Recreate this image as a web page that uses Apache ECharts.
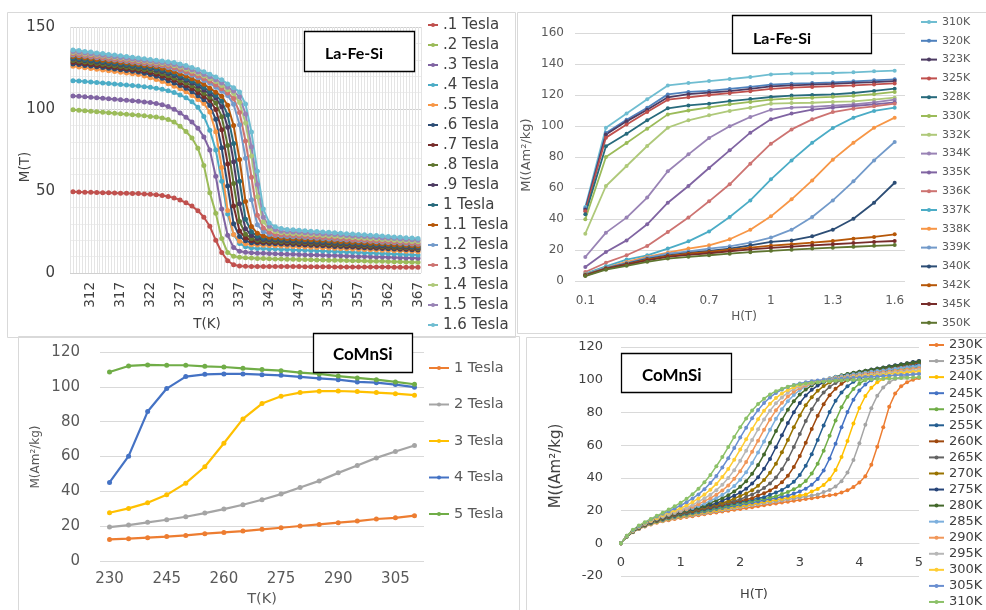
<!DOCTYPE html>
<html>
<head>
<meta charset="utf-8">
<script src="https://cdn.jsdelivr.net/npm/echarts@6/dist/echarts.min.js"></script>
<style>
html, body { margin: 0; padding: 0; background: #fff; }
#chart { width: 986px; height: 610px; }
</style>
</head>
<body>
<div id="chart"></div>
<script>
// ---- La-Fe-Si, M(T) at fixed field (top left) ----
var tlTemps = [309,310,311,312,313,314,315,316,317,318,319,320,321,322,323,324,325,326,327,328,329,330,331,332,333,334,335,336,337,338,339,340,341,342,343,344,345,346,347,348,349,350,351,352,353,354,355,356,357,358,359,360,361,362,363,364,365,366,367];
var tl01 = [49.5,49.4,49.3,49.2,49.1,49,48.9,48.8,48.7,48.6,48.5,48.4,48.2,48,47.7,47.3,46.7,45.8,44.5,42.8,40.8,38,34,28.5,20,12.5,7.5,5,4.3,4.1,4,4,4,4,3.9,3.9,3.9,3.9,3.9,3.8,3.8,3.8,3.8,3.8,3.7,3.7,3.7,3.7,3.7,3.6,3.6,3.6,3.6,3.6,3.5,3.5,3.5,3.5,3.5];
var tl02 = [99.5,99.2,98.9,98.6,98.3,98,97.7,97.4,97.1,96.8,96.5,96.2,95.9,95.5,95.1,94.5,93.6,92,89.5,86.3,82.3,76,65.5,49,36.5,21,12.5,10.2,9.6,9.3,9.1,8.9,8.8,8.7,8.6,8.5,8.4,8.4,8.3,8.2,8.1,8,7.9,7.8,7.8,7.7,7.6,7.5,7.4,7.3,7.2,7.2,7.1,7,6.9,6.8,6.7,6.6,6.5];
var tl03 = [108,107.7,107.4,107.1,106.8,106.5,106.2,105.9,105.6,105.3,105,104.7,104.3,103.9,103.4,102.6,101.5,99.8,97.6,95,92,88.3,83,75,59,39,23,15.5,13.2,12.6,12.3,12.1,12,11.9,11.7,11.6,11.5,11.4,11.3,11.2,11,10.9,10.8,10.7,10.6,10.5,10.4,10.2,10.1,10,9.9,9.8,9.7,9.6,9.4,9.3,9.2,9.1,9];
var tl04 = [117.3,117,116.7,116.4,116.1,115.8,115.5,115.2,114.9,114.6,114.3,114,113.6,113.2,112.7,112,111.1,110,108.6,106.8,104.4,101,95.5,87,75,56,36,23.5,18,16,15.3,15,14.9,14.7,14.6,14.4,14.3,14.1,14,13.8,13.7,13.5,13.4,13.2,13.1,12.9,12.8,12.6,12.5,12.3,12.2,12,11.9,11.7,11.6,11.4,11.3,11.1,11];
var tl05 = [126,125.6,125.1,124.7,124.2,123.8,123.3,122.9,122.4,122,121.5,121.1,120.1,119.1,118,116.8,115.4,113.9,112.3,110.5,108.2,105.8,103.4,98.1,86.1,64.4,38.1,23.4,19.4,17.8,17.2,17.1,16.9,16.8,16.6,16.5,16.3,16.2,16,15.9,15.7,15.6,15.4,15.3,15.1,15,14.8,14.7,14.5,14.4,14.2,14.1,13.9,13.8,13.6,13.5,13.3,13.2,13];
var tl06 = [127.5,127.1,126.6,126.2,125.7,125.3,124.8,124.4,123.9,123.5,123,122.6,121.8,121,119.9,118.7,117.3,115.9,114.3,112.7,110.5,108.1,105.6,102.2,93.7,76.3,53.1,30,22.3,19.6,18.5,18.3,18.2,18,17.8,17.7,17.5,17.4,17.2,17,16.9,16.7,16.6,16.4,16.2,16.1,15.9,15.8,15.6,15.4,15.3,15.1,15,14.8,14.6,14.5,14.3,14.2,14];
var tl07 = [128.5,128.1,127.6,127.2,126.7,126.3,125.8,125.4,124.9,124.5,124,123.6,123.1,122.2,121.2,120.1,118.8,117.5,115.9,114.3,112.5,110.1,107.6,105.2,99.7,87.3,66.5,40.8,25.6,21.4,19.8,19.1,18.9,18.8,18.6,18.4,18.2,18.1,17.9,17.7,17.6,17.4,17.2,17.1,16.9,16.7,16.5,16.4,16.2,16,15.9,15.7,15.5,15.4,15.2,15,14.8,14.7,14.5];
var tl08 = [129.5,129.1,128.6,128.2,127.7,127.3,126.8,126.4,125.9,125.5,125,124.6,124.1,123.4,122.5,121.5,120.2,118.9,117.4,115.9,114.2,112.1,109.6,107.2,103.7,95.3,77.8,54.6,31.4,23.7,21,19.9,19.7,19.5,19.3,19.1,19,18.8,18.6,18.4,18.2,18.1,17.9,17.7,17.5,17.3,17.2,17,16.8,16.6,16.4,16.3,16.1,15.9,15.7,15.5,15.4,15.2,15];
var tl09 = [130.5,130.1,129.6,129.2,128.7,128.3,127.8,127.4,126.9,126.5,126,125.6,125.1,124.7,123.7,122.8,121.6,120.4,119,117.5,115.8,114.1,111.6,109.2,106.7,101.3,88.8,67.9,42.2,27,22.8,21.1,20.4,20.3,20.1,19.9,19.7,19.5,19.3,19.1,18.9,18.7,18.5,18.4,18.2,18,17.8,17.6,17.4,17.2,17,16.8,16.6,16.5,16.3,16.1,15.9,15.7,15.5];
var tl10 = [131,130.6,130.1,129.7,129.2,128.8,128.3,127.9,127.4,127,126.5,126.1,125.6,125.2,124.4,123.6,122.5,121.3,119.9,118.5,116.9,115.3,113.1,110.7,108.2,104.8,96.3,78.9,56,32.8,25.1,22.4,21.2,21,20.8,20.6,20.4,20.2,20,19.8,19.6,19.4,19.2,19,18.8,18.6,18.4,18.2,18,17.8,17.6,17.4,17.2,17,16.8,16.6,16.4,16.2,16];
var tl11 = [132,131.6,131.1,130.7,130.2,129.8,129.3,128.9,128.4,128,127.5,127.1,126.6,126.2,125.7,124.8,123.8,122.7,121.4,120.1,118.5,116.9,115.1,112.7,110.2,107.8,102.3,89.9,69.2,43.6,28.4,24.2,22.5,21.8,21.5,21.3,21.1,20.9,20.7,20.5,20.3,20.1,19.9,19.7,19.4,19.2,19,18.8,18.6,18.4,18.2,18,17.8,17.6,17.3,17.1,16.9,16.7,16.5];
var tl12 = [133,132.6,132.1,131.7,131.2,130.8,130.3,129.9,129.4,129,128.5,128.1,127.6,127.2,126.7,126.3,125.3,124.4,123.2,122,120.6,119.1,117.4,115.7,113.2,110.8,108.3,102.9,90.4,70,44.7,29.4,25.2,23.5,22.8,22.6,22.3,22.1,21.9,21.7,21.5,21.2,21,20.8,20.6,20.4,20.1,19.9,19.7,19.5,19.3,19,18.8,18.6,18.4,18.2,17.9,17.7,17.5];
var tl13 = [133.5,133.1,132.6,132.2,131.7,131.3,130.8,130.4,129.9,129.5,129,128.6,128.1,127.7,127.2,126.8,126,125.2,124.1,122.9,121.5,120.1,118.5,116.9,114.7,112.3,109.8,106.4,97.9,80.5,58.4,35.2,27.5,24.8,23.5,23.3,23.1,22.8,22.6,22.4,22.1,21.9,21.7,21.5,21.2,21,20.8,20.5,20.3,20.1,19.8,19.6,19.4,19.2,18.9,18.7,18.5,18.2,18];
var tl14 = [134.5,134.1,133.6,133.2,132.7,132.3,131.8,131.4,130.9,130.5,130,129.6,129.1,128.7,128.2,127.8,127.3,126.4,125.4,124.3,123,121.7,120.1,118.5,116.7,114.3,111.8,109.4,103.9,91.5,71.4,46.5,31.2,27,25.3,24.5,24.3,24,23.8,23.6,23.3,23.1,22.8,22.6,22.4,22.1,21.9,21.6,21.4,21.2,20.9,20.7,20.4,20.2,20,19.7,19.5,19.2,19];
var tl15 = [135,134.6,134.1,133.7,133.2,132.8,132.3,131.9,131.4,131,130.5,130.1,129.6,129.2,128.7,128.3,127.8,127.1,126.2,125.2,123.9,122.6,121.1,119.6,117.9,115.8,113.3,110.9,107.4,97,77,54,34,28.5,26.6,25.5,25.3,25,24.8,24.6,24.3,24.1,23.8,23.6,23.4,23.1,22.9,22.6,22.4,22.2,21.9,21.7,21.4,21.2,21,20.7,20.5,20.2,20];
var tl16 = [136,135.6,135.1,134.7,134.2,133.8,133.3,132.9,132.4,132,131.5,131.1,130.6,130.2,129.7,129.3,128.8,128.4,127.4,126.5,125.3,124.1,122.7,121.2,119.5,117.8,115.3,112.9,110.4,103,86,62,39,30.5,28.2,27.1,26.5,26.3,26,25.8,25.5,25.3,25,24.8,24.5,24.3,24,23.8,23.5,23.3,23,22.8,22.5,22.3,22,21.8,21.5,21.3,21];
var tlNames = ['.1 Tesla','.2 Tesla','.3 Tesla','.4 Tesla','.5 Tesla','.6 Tesla','.7 Tesla','.8 Tesla','.9 Tesla','1 Tesla','1.1 Tesla','1.2 Tesla','1.3 Tesla','1.4 Tesla','1.5 Tesla','1.6 Tesla'];
var tlColors = ['#C0504D','#9BBB59','#8064A2','#4BACC6','#F79646','#2C4D75','#772C2A','#5F7530','#4D3B62','#276A7C','#B65708','#729ACA','#CD7371','#AFC97A','#9983B5','#6FBDD1'];
var tlSeries = [tl01,tl02,tl03,tl04,tl05,tl06,tl07,tl08,tl09,tl10,tl11,tl12,tl13,tl14,tl15,tl16];

// ---- La-Fe-Si, M(H) isotherms (top right) ----
var trH = ['0.1','0.2','0.3','0.4','0.5','0.6','0.7','0.8','0.9','1','1.1','1.2','1.3','1.4','1.5','1.6'];
var tr310 = [47.7,98.9,108,117.2,126.2,127.7,129,130.3,131.6,133.3,133.8,134,134.2,134.6,135.3,135.7];
var tr320 = [47,95.5,104,111.8,120.4,122,122.6,123.9,125.2,126.7,127.3,127.7,128.2,128.8,129.5,130.1];
var tr323 = [46,94.5,103,110.5,118.5,120.5,121.5,122.5,124,125.5,126.2,126.7,127.2,127.8,128.3,129];
var tr325 = [45,92.5,101,109,117,118.5,120,121.2,122.5,124,124.7,125.2,125.7,126.2,126.8,127.5];
var tr328 = [43,86.9,95,103.7,111.4,113.3,114.4,116.1,117.4,118.7,119.6,120,120.4,121.3,122.6,124.1];
var tr330 = [39.8,80,89,98.3,107.5,110,112,114,115.5,117,117.8,118.3,118.8,119.5,120.5,122];
var tr332 = [30.5,61.3,74.2,87.1,98.9,103.7,106.9,109.7,111.8,114.4,114.8,115,115.5,115.9,117,118.3];
var tr334 = [15.5,31.2,40.9,53.8,70.8,81.7,92.3,99.8,105.8,110.5,111.8,112.3,113.1,114,115.3,117];
var tr335 = [9,18.7,26.2,36.6,50.5,61.3,72.9,84.3,95.7,104.3,108,110.5,111.8,112.9,114,115.3];
var tr336 = [5.8,11.8,16.6,22.6,31.6,40.9,51.4,62.4,75.7,88.6,97.8,104.3,109,111.2,112.7,114.4];
var tr337 = [4.7,9.5,13.8,16.6,20.9,25.6,32,41.3,52,65.6,77.8,89.2,98.7,105.4,109.7,111.8];
var tr338 = [4.3,8.6,12.3,15.5,18.3,20.9,23,26.9,33.1,41.7,52.7,64.9,78.3,89.2,98.9,105.4];
var tr339 = [4.1,8.6,11.6,15,17.6,19.1,20.9,22.4,24.7,28,33.1,41.3,52,64.3,77.8,89.7];
var tr340 = [3.9,8.2,11.2,14.2,16.6,18.1,19.4,20.9,23,25.2,26.2,28.8,33.1,40.2,50.5,63.4];
var tr342 = [3.7,8,10.8,13.8,16.1,17.6,18.7,20.2,21.5,22.8,23.7,24.7,25.8,27.3,28.4,30.1];
var tr345 = [3.5,7.8,10.5,13.3,15.5,16.8,17.9,19.2,20.4,21.4,22.2,23,23.7,24.5,25.2,25.8];
var tr350 = [3.2,7.3,9.8,12.4,14.5,15.6,16.6,17.6,18.6,19.5,20.2,20.9,21.5,22.1,22.7,23.2];
var trNames = ['310K','320K','323K','325K','328K','330K','332K','334K','335K','336K','337K','338K','339K','340K','342K','345K','350K'];
var trColors = ['#6FBDD1','#4F81BD','#4D3B62','#C0504D','#276A7C','#9BBB59','#AFC97A','#9983B5','#8064A2','#CD7371','#4BACC6','#F79646','#729ACA','#2C4D75','#B65708','#772C2A','#5F7530'];
var trSeries = [tr310,tr320,tr323,tr325,tr328,tr330,tr332,tr334,tr335,tr336,tr337,tr338,tr339,tr340,tr342,tr345,tr350];

// ---- CoMnSi, M(T) at fixed field (bottom left) ----
var blTemps = ['230','235','240','245','250','255','260','265','270','275','280','285','290','295','300','305','310'];
var bl1 = [12.4,12.8,13.4,14,14.7,15.7,16.4,17.2,18.2,19.1,20.1,21,22,22.9,24.1,24.8,26];
var bl2 = [19.5,20.6,22.2,23.7,25.4,27.5,29.8,32.3,35.2,38.4,42.2,46,50.6,54.8,59.2,62.9,66.3];
var bl3 = [27.7,30.2,33.4,38,44.7,54.1,67.6,81.6,90.4,94.6,96.7,97.5,97.6,97.3,96.7,96.1,95.2];
var bl4 = [45.1,60.2,85.8,99,105.9,107.2,107.4,107.4,107,106.6,105.7,104.9,104.1,102.8,102.4,101.3,99.8];
var bl5 = [108.5,112,112.6,112.4,112.4,111.8,111.4,110.6,109.9,109.3,108.2,107.4,106.2,105.1,104.1,102.8,101.5];
var blNames = ['1 Tesla','2 Tesla','3 Tesla','4 Tesla','5 Tesla'];
var blColors = ['#ED7D31','#A5A5A5','#FFC000','#4472C4','#70AD47'];
var blSeries = [bl1,bl2,bl3,bl4,bl5];

// ---- CoMnSi, M(H) isotherms (bottom right) ----
var brH = [0,0.1,0.2,0.3,0.4,0.5,0.6,0.7,0.8,0.9,1,1.1,1.2,1.3,1.4,1.5,1.6,1.7,1.8,1.9,2,2.1,2.2,2.3,2.4,2.5,2.6,2.7,2.8,2.9,3,3.1,3.2,3.3,3.4,3.5,3.6,3.7,3.8,3.9,4,4.1,4.2,4.3,4.4,4.5,4.6,4.7,4.8,4.9,5];
var br230 = [0,4.1,6.8,8.8,10.2,11.5,12.5,13.4,14.1,14.9,15.5,16.1,16.6,17.2,17.7,18.3,18.8,19.4,19.9,20.5,21,21.6,22.1,22.7,23.2,23.8,24.3,24.9,25.4,26,26.5,27.1,27.6,28.2,28.7,29.3,29.8,31.1,32.4,34.4,37.2,41,48,59,71,83.5,91.5,96,98.5,100,101];
var br235 = [0,4.1,6.9,8.9,10.4,11.7,12.8,13.7,14.5,15.3,16,16.6,17.2,17.8,18.4,19,19.6,20.2,20.8,21.4,22,22.6,23.2,23.8,24.4,25,25.6,26.2,26.8,27.4,28,28.6,29.2,29.8,31.3,32.6,34.7,38,43.2,50.9,61.2,72.4,82.6,90.2,95.3,98.5,100.4,101.7,102.6,103.2,103.8];
var br240 = [0,4.1,7,9,10.6,11.9,13,14,14.8,15.7,16.4,17,17.7,18.3,19,19.6,20.2,20.9,21.5,22.2,22.8,23.4,24.1,24.7,25.4,26,26.6,27.3,27.9,28.6,29.2,29.8,31.7,33.2,35.7,39.2,44.8,52.7,62.5,73.2,82.7,90,95.1,98.4,100.5,102,103.1,103.9,104.6,105.2,105.8];
var br245 = [0,4.2,7.1,9.1,10.7,12.1,13.3,14.3,15.1,16,16.8,17.5,18.2,18.8,19.5,20.2,20.9,21.6,22.2,22.9,23.6,24.3,25,25.6,26.3,27,27.7,28.4,29,30.4,31.7,33.4,35.8,39.3,44.5,51.8,60.9,70.9,80.2,87.8,93.4,97.1,99.7,101.4,102.8,103.8,104.6,105.4,106.1,106.8,107.4];
var br250 = [0,4.2,7.1,9.3,10.9,12.3,13.5,14.5,15.5,16.4,17.2,17.9,18.6,19.4,20.1,20.8,21.5,22.2,23,23.7,24.4,25.1,25.8,26.6,27.3,28,28.7,30.1,31.4,33,35.1,38.1,42.6,48.7,56.6,65.7,75,83.2,89.6,94.3,97.6,99.9,101.6,102.9,103.9,104.8,105.6,106.3,107,107.7,108.4];
var br255 = [0,4.3,7.2,9.4,11,12.5,13.8,14.8,15.8,16.7,17.6,18.4,19.1,19.9,20.6,21.4,22.2,22.9,23.7,24.4,25.2,26,26.7,27.5,28.2,29.7,31.1,32.6,34.8,37.6,41.8,47.4,54.5,63.1,72,80.2,87.1,92.2,96,98.7,100.6,102,103.2,104.2,105.1,105.8,106.6,107.3,108,108.7,109.4];
var br260 = [0,4.3,7.3,9.5,11.2,12.7,14,15.1,16.1,17.1,18,18.8,19.6,20.4,21.2,22,22.8,23.6,24.4,25.2,26,26.8,27.6,29.2,30.6,32.3,34.4,37.3,41.3,46.6,53.4,61.4,69.9,77.9,85,90.5,94.5,97.5,99.7,101.3,102.6,103.6,104.5,105.4,106.1,106.9,107.6,108.3,109,109.7,110.4];
var br265 = [0,4.3,7.4,9.6,11.4,12.9,14.2,15.4,16.4,17.5,18.4,19.2,20.1,20.9,21.8,22.6,23.4,24.3,25.1,26,26.8,28.5,29.9,31.6,33.8,36.6,40.2,45.2,51.4,58.8,66.8,74.7,81.9,87.7,92.2,95.6,98,99.9,101.3,102.5,103.6,104.4,105.2,106,106.7,107.4,108.1,108.8,109.5,110.2,110.9];
var br270 = [0,4.4,7.4,9.7,11.5,13.1,14.4,15.6,16.7,17.7,18.7,19.6,20.4,21.3,22.2,23.1,23.9,24.8,25.7,27.4,28.9,30.5,32.5,35.1,38.7,43.1,48.7,55.6,63.1,70.9,78.1,84.4,89.3,93.2,96.1,98.3,99.9,101.2,102.4,103.5,104.3,105.1,105.8,106.5,107.2,107.9,108.6,109.3,110,110.7,111.4];
var br275 = [0,4.4,7.5,9.8,11.6,13.2,14.6,15.8,16.9,18,19,19.9,20.8,21.7,22.6,23.5,24.4,26.1,27.5,29.1,31,33.4,36.5,40.4,45.5,51.6,58.7,66,73.5,80.1,85.8,90.3,93.8,96.4,98.4,100,101.2,102.3,103.3,104.1,104.8,105.5,106.2,106.9,107.5,108.2,108.8,109.5,110.1,110.8,111.4];
var br280 = [0,4.4,7.6,9.9,11.7,13.4,14.8,16,17.1,18.3,19.3,20.2,21.2,22.1,23,24.8,26.1,27.6,29.4,31.7,34.5,38,42.5,47.9,54.3,61.4,68.6,75.5,81.7,86.8,90.9,94,96.5,98.3,99.7,100.8,101.8,102.7,103.5,104.2,104.8,105.5,106.1,106.7,107.3,107.9,108.5,109.1,109.8,110.4,111];
var br285 = [0,4.5,7.6,10,11.8,13.5,15,16.2,17.4,18.5,19.6,20.6,21.5,22.8,24.2,26,27.7,29.6,32.1,35,38.9,43.5,49.1,55.5,62.3,69.4,76.1,81.9,86.8,90.7,93.7,96,97.6,99,100.1,100.9,101.6,102.2,102.8,103.3,103.8,104.3,104.8,105.3,105.7,106.2,106.7,107.1,107.6,108,108.5];
var br290 = [0,4.5,7.7,10.1,12,13.7,15.1,16.4,17.6,18.8,19.9,20.9,22.3,23.9,25.8,27.6,29.7,32.3,35.4,39.4,44.1,49.7,56,62.7,69.4,75.7,81.3,85.9,89.7,92.6,94.8,96.5,97.8,98.9,99.7,100.4,101,101.5,102,102.4,102.8,103.3,103.7,104.1,104.5,104.9,105.3,105.8,106.2,106.6,107];
var br295 = [0,4.5,7.7,10.2,12.1,13.8,15.3,16.6,17.9,19.1,20.4,21.7,23.4,25.5,27.5,29.7,32.5,35.8,39.9,44.7,50.4,56.6,63.2,69.7,75.7,81.1,85.6,89.2,92.1,94.3,95.9,97.2,98.2,99,99.7,100.2,100.7,101.2,101.6,102,102.4,102.8,103.1,103.5,103.8,104.2,104.6,104.9,105.3,105.6,106];
var br300 = [0,4.6,7.8,10.3,12.2,14,15.5,17.2,18.6,20,21.4,23.2,25.2,27.4,29.8,32.8,36.3,40.5,45.4,51.1,57.3,63.6,69.9,75.8,81,85.3,88.8,91.6,93.7,95.4,96.7,97.7,98.5,99.1,99.6,100.1,100.5,100.9,101.2,101.5,101.9,102.2,102.5,102.8,103.1,103.5,103.8,104.1,104.4,104.7,105];
var br305 = [0,4.6,7.9,10.4,12.5,14.5,16.3,18,19.5,21.3,23.1,25.1,27.4,29.9,33.1,36.9,41.2,46.4,52,58.2,64.6,70.7,76.5,81.5,85.8,89.2,91.9,94,95.6,96.8,97.7,98.4,99,99.5,99.9,100.2,100.5,100.7,101,101.2,101.4,101.6,101.8,102,102.3,102.5,102.7,102.9,103.1,103.3,103.5];
var br310 = [0,4.6,8.2,10.8,12.9,14.9,16.8,18.6,20.6,22.6,24.8,27.2,30,33.4,37.3,41.8,47.1,52.7,58.8,65,70.9,76.3,81.2,85.1,88.4,91,93,94.5,95.7,96.6,97.2,97.7,98.2,98.5,98.8,99.1,99.3,99.5,99.6,99.8,99.9,100.1,100.2,100.4,100.6,100.7,100.9,101,101.2,101.3,101.5];
var brNames = ['230K','235K','240K','245K','250K','255K','260K','265K','270K','275K','280K','285K','290K','295K','300K','305K','310K'];
var brColors = ['#ED7D31','#A5A5A5','#FFC000','#4472C4','#70AD47','#255E91','#9E480E','#636363','#997300','#264478','#43682B','#7CAFDD','#F1975A','#B7B7B7','#FFCD33','#698ED0','#8CC168'];
var brSeries = [br230,br235,br240,br245,br250,br255,br260,br265,br270,br275,br280,br285,br290,br295,br300,br305,br310];

var FONT = 'DejaVu Sans';
var myChart = echarts.init(document.getElementById('chart'));

var series = [];
tlSeries.forEach(function (arr, i) {
    series.push({
        name: tlNames[i], type: 'line', xAxisIndex: 0, yAxisIndex: 0,
        data: arr.map(function (v, j) { return [tlTemps[j], v]; }),
        symbol: 'circle', symbolSize: 5, color: tlColors[i],
        lineStyle: { width: 2 }
    });
});
trSeries.forEach(function (arr, i) {
    series.push({
        name: trNames[i], type: 'line', xAxisIndex: 1, yAxisIndex: 1,
        data: arr, symbol: 'circle', symbolSize: 4, color: trColors[i],
        lineStyle: { width: 1.8 }
    });
});
blSeries.forEach(function (arr, i) {
    series.push({
        name: 'bl|' + blNames[i], type: 'line', xAxisIndex: 2, yAxisIndex: 2,
        data: arr, symbol: 'circle', symbolSize: 5, color: blColors[i],
        lineStyle: { width: 2.2 }
    });
});
brSeries.forEach(function (arr, i) {
    series.push({
        name: 'br|' + brNames[i], type: 'line', xAxisIndex: 3, yAxisIndex: 3,
        data: arr.map(function (v, j) { return [brH[j], v]; }),
        symbol: 'circle', symbolSize: 4, color: brColors[i],
        lineStyle: { width: 1.5 }
    });
});

function stripTag(name) { return name.split('|')[1]; }

function axisTitle(text, x, y, size, color, vertical) {
    return {
        type: 'text', x: x, y: y, rotation: vertical ? Math.PI / 2 : 0, z: 50,
        style: { text: text, align: 'center', verticalAlign: 'middle', fill: color,
                 fontSize: size, fontFamily: FONT }
    };
}
function labelBox(x, y, w, h, text, tx, ty, size) {
    return [
        { type: 'rect', z: 100, shape: { x: x, y: y, width: w, height: h },
          style: { fill: '#fff', stroke: '#000', lineWidth: 1.3 } },
        { type: 'text', z: 101, x: tx, y: ty,
          style: { text: text, align: 'left', verticalAlign: 'middle', fill: '#000',
                   fontSize: size, fontWeight: 'bold', fontFamily: 'Lato' } }
    ];
}
function panel(x, y, w, h) {
    return { type: 'rect', z: 1, shape: { x: x, y: y, width: w, height: h },
             style: { fill: 'none', stroke: '#D9D9D9', lineWidth: 1 } };
}

var graphics = [
    panel(7.5, 12.5, 508, 325),
    panel(517.5, 12.5, 480, 321),
    panel(18.5, 336.5, 501, 300),
    panel(526.5, 337.5, 470, 300),
    axisTitle('M(T)', 25, 167, 13.5, '#404040', true),
    axisTitle('T(K)', 207, 324, 13.5, '#404040', false),
    axisTitle('M((Am²/kg)', 527, 155, 13, '#595959', true),
    axisTitle('H(T)', 744, 317, 12, '#595959', false),
    axisTitle('M(Am²/kg)', 36, 457, 12, '#595959', true),
    axisTitle('T(K)', 262, 599, 14.5, '#595959', false),
    axisTitle('M((Am²/kg)', 556, 466, 15, '#404040', true),
    axisTitle('H(T)', 754, 595, 13, '#404040', false)
].concat(
    labelBox(304.5, 31.5, 110, 40, 'La-Fe-Si', 325, 54, 16),
    labelBox(732.5, 15.5, 139, 38, 'La-Fe-Si', 753, 39, 16),
    labelBox(313.5, 333.5, 99, 39, 'CoMnSi', 333, 355, 17),
    labelBox(621.5, 353.5, 110, 39, 'CoMnSi', 642, 376, 17)
);

var option = {
    animation: false,
    backgroundColor: '#fff',
    textStyle: { fontFamily: FONT },
    grid: [
        { left: 70, top: 27, width: 351, height: 246 },
        { left: 575, top: 33, width: 330, height: 248 },
        { left: 100, top: 352, width: 324, height: 209 },
        { left: 621, top: 347, width: 298, height: 229 }
    ],
    xAxis: [
        { gridIndex: 0, type: 'value', min: 308.5, max: 367.5, interval: 0.5,
          axisLine: { show: false }, axisTick: { show: false },
          splitLine: { show: true, lineStyle: { color: '#E4E4E4', width: 1 } },
          axisLabel: { rotate: 90, margin: 9, color: '#404040', fontSize: 13.5,
              showMinLabel: true, showMaxLabel: true,
              formatter: function (v) {
                  return (v === Math.round(v) && (v - 312) % 5 === 0) ? String(v) : '';
              } } },
        { gridIndex: 1, type: 'category', data: trH, boundaryGap: true,
          axisLine: { show: false }, axisTick: { show: false }, splitLine: { show: false },
          axisLabel: { interval: 2, margin: 14, color: '#595959', fontSize: 12 } },
        { gridIndex: 2, type: 'category', data: blTemps, boundaryGap: true,
          axisLine: { show: false }, axisTick: { show: false }, splitLine: { show: false },
          axisLabel: { interval: 2, margin: 11, color: '#595959', fontSize: 15 } },
        { gridIndex: 3, type: 'value', min: 0, max: 5, interval: 1, offset: -32.7,
          axisLine: { show: true, onZero: false, lineStyle: { color: '#D9D9D9' } },
          axisTick: { show: false }, splitLine: { show: false },
          axisLabel: { margin: 13, color: '#404040', fontSize: 13 } }
    ],
    yAxis: [
        { gridIndex: 0, type: 'value', min: 0, max: 150, interval: 50,
          axisLine: { show: false }, axisTick: { show: false },
          splitLine: { show: true, lineStyle: { color: '#D0D0D0' } },
          minorTick: { show: false, splitNumber: 5 },
          minorSplitLine: { show: true, lineStyle: { color: '#EDEDED' } },
          axisLabel: { margin: 15, color: '#404040', fontSize: 15 } },
        { gridIndex: 1, type: 'value', min: 0, max: 160, interval: 20,
          axisLine: { show: false }, axisTick: { show: false },
          splitLine: { show: true, lineStyle: { color: '#D9D9D9' } },
          axisLabel: { margin: 11, color: '#595959', fontSize: 12 } },
        { gridIndex: 2, type: 'value', min: 0, max: 120, interval: 20,
          axisLine: { show: false }, axisTick: { show: false },
          splitLine: { show: true, lineStyle: { color: '#D9D9D9' } },
          axisLabel: { margin: 20, color: '#595959', fontSize: 15 } },
        { gridIndex: 3, type: 'value', min: -20, max: 120, interval: 20,
          axisLine: { show: false }, axisTick: { show: false },
          splitLine: { show: true, lineStyle: { color: '#D9D9D9' } },
          axisLabel: { margin: 18, color: '#404040', fontSize: 13 } }
    ],
    legend: [
        { orient: 'vertical', left: 427, top: 17, padding: 0, itemWidth: 10, itemHeight: 5, itemGap: 4,
          data: tlNames, textStyle: { fontSize: 15, color: '#404040', lineHeight: 16 } },
        { orient: 'vertical', left: 920, top: 14.5, padding: 0, itemWidth: 16, itemHeight: 5, itemGap: 3.8,
          data: trNames, textStyle: { fontSize: 11, color: '#595959', lineHeight: 15 } },
        { orient: 'vertical', left: 428, top: 360, padding: 0, itemWidth: 20, itemHeight: 5, itemGap: 20.5,
          data: blNames.map(function (n) { return 'bl|' + n; }), formatter: stripTag,
          textStyle: { fontSize: 14.5, color: '#595959', lineHeight: 16 } },
        { orient: 'vertical', left: 928, top: 338, padding: 0, itemWidth: 15, itemHeight: 5, itemGap: 2.06,
          data: brNames.map(function (n) { return 'br|' + n; }), formatter: stripTag,
          textStyle: { fontSize: 13, color: '#404040', lineHeight: 14 } }
    ],
    graphic: graphics,
    series: series
};
myChart.setOption(option);
</script>
</body>
</html>
